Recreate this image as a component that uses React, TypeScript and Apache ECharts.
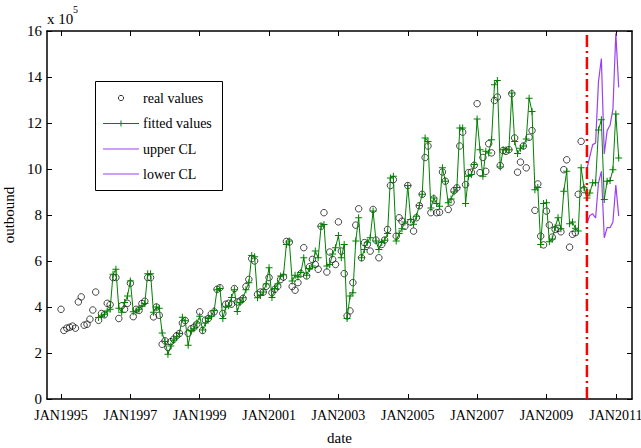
import React, { useEffect, useRef } from "react";
import * as echarts from "echarts";

// months counted from JAN1995 (index 0)
const realValues = [
  3.9, 2.98, 3.08, 3.12, 3.17, 3.08, 4.22, 4.44, 3.21, 3.25, 3.47, 3.87,
  4.65, 3.42, 3.72, 3.66, 4.16, 4.1, 5.28, 5.28, 3.5, 4.05, 3.9, 4.16,
  5.03, 3.58, 3.9, 3.85, 4.15, 4.25, 5.28, 5.28, 3.57, 4.0, 3.64, 2.38,
  2.53, 2.24, 2.49, 2.6, 2.75, 2.85, 3.3, 3.41, 2.86, 3.05, 3.12, 3.25,
  3.79, 2.98, 3.43, 3.5, 3.7, 3.79, 4.77, 4.84, 3.72, 4.12, 4.16, 4.12,
  4.8, 4.22, 4.26, 4.37, 4.89, 5.2, 6.1, 6.0, 4.55, 4.65, 4.65, 4.9,
  5.28, 4.62, 4.77, 4.9, 5.2, 5.3, 6.85, 6.82, 4.89, 4.73, 5.06, 5.45,
  6.58, 5.35, 5.75, 6.07, 5.85, 5.64, 7.51, 8.1, 5.52, 6.39, 6.07, 5.85,
  7.7, 6.43, 5.45, 3.61, 3.83, 5.06, 7.56, 8.27, 6.14, 6.8, 6.72, 6.43,
  8.24, 6.91, 6.14, 6.72, 6.91, 7.37, 9.28, 9.54, 7.08, 7.88, 7.73, 7.51,
  9.28, 7.69, 7.3, 7.88, 8.4, 8.9, 10.5, 11.0, 8.1, 8.7, 8.1, 8.12,
  9.87, 9.47, 8.24, 8.56, 9.06, 9.18, 11.0, 11.6, 9.32, 9.84, 9.86, 10.16,
  12.84, 9.84, 10.5, 9.9, 11.1, 10.7, 12.98, 13.13, 10.15, 10.8, 10.77, 10.84,
  13.27, 11.35, 9.86, 10.3, 11.0, 10.05, 11.38, 11.67, 8.2, 9.35, 7.08, 6.7,
  8.17, 7.56, 7.04, 7.37, 7.42, 7.27, 9.97, 10.4, 6.6, 7.16, 7.23, 8.9,
  11.2, 9.1,
];

const fittedStart = 13;
const fittedValues = [
  3.54, 3.61, 3.69, 3.83, 3.9, 5.42, 5.64, 3.95, 3.77, 4.2, 4.48,
  5.13, 3.79, 3.83, 3.9, 4.05, 4.15, 5.45, 5.45, 3.77, 4.0, 3.95, 2.87,
  2.5, 1.95, 2.3, 2.55, 2.7, 2.85, 3.55, 3.4, 2.34, 2.97, 3.05, 3.3,
  3.6, 3.0, 3.3, 3.5, 3.6, 3.85, 4.75, 4.8, 3.5, 4.0, 4.05, 4.41,
  4.75, 3.8, 4.2, 4.4, 4.75, 5.05, 6.24, 6.19, 4.4, 4.5, 4.65, 5.0,
  5.71, 4.41, 4.8, 5.0, 5.35, 5.4, 6.72, 6.87, 5.13, 5.38, 5.3, 5.5,
  6.14, 5.38, 5.67, 5.78, 6.43, 6.14, 7.51, 7.59, 5.78, 5.85, 6.3, 6.58,
  7.11, 6.14, 6.72, 3.5, 4.48, 4.62, 6.87, 7.88, 6.14, 6.5, 6.82, 7.01,
  8.17, 6.87, 6.5, 6.8, 6.9, 7.2, 9.61, 9.68, 6.87, 7.2, 7.4, 7.7,
  9.28, 7.8, 7.6, 7.95, 8.41, 8.9, 11.35, 11.2, 8.3, 8.74, 8.5, 8.38,
  10.05, 9.47, 8.53, 8.7, 9.0, 9.2, 11.78, 11.78, 8.5, 9.68, 9.76, 10.2,
  12.17, 10.84, 9.68, 10.77, 10.7, 11.27, 13.66, 13.85, 10.09, 10.84, 10.84, 10.84,
  13.3, 11.2, 10.67, 10.9, 11.0, 11.3, 13.08, 12.5, 9.1, 9.2, 6.72, 8.5,
  8.53, 6.84, 6.96, 7.47, 7.88, 7.4, 9.03, 9.9, 7.62, 7.7, 7.42, 7.3,
  10.05, 9.18, 8.74, 8.96, 9.4, 9.4, 11.7, 12.14, 8.67, 9.47, 9.5, 9.97,
  12.39, 10.48,
];

const forecastStart = 182;
const upperCL = [10.0, 10.55, 11.06, 11.13, 13.8, 14.8, 10.65, 11.67, 11.9, 12.6, 15.9, 13.55];
const lowerCL = [7.64, 7.98, 8.05, 7.87, 9.4, 9.9, 7.01, 7.45, 7.45, 7.7, 9.3, 7.95];

const tickMonths = [0, 24, 48, 72, 96, 120, 144, 168, 192];
const tickLabels = ["JAN1995", "JAN1997", "JAN1999", "JAN2001", "JAN2003", "JAN2005", "JAN2007", "JAN2009", "JAN2011"];

const SERIF = "'Liberation Serif', 'Times New Roman', serif";
const GREEN = "#008000";
const PURPLE = "#9a40f5";
const PLUS = "path://M3,0H4V3H7V4H4V7H3V4H0V3H3Z";

export default function App() {
  const ref = useRef<HTMLDivElement>(null);
  useEffect(() => {
    if (!ref.current) return;
    const chart = echarts.init(ref.current, null, { renderer: "svg" });
    const xMin = -4.85;
    const xMax = 197.6;
    const axisLine = { show: true, onZero: false, lineStyle: { color: "#000", width: 1.5 } };
    const legendY = [98, 123.5, 149, 174];
    const legendNames = ["real values", "fitted values", "upper CL", "lower CL"];
    const option: any = {
      animation: false,
      backgroundColor: "#fff",
      grid: { left: 47, top: 31, width: 585, height: 368, containLabel: false, outerBoundsMode: "none" },
      xAxis: [
        {
          type: "value",
          min: xMin,
          max: xMax,
          position: "bottom",
          axisLine,
          axisTick: { inside: true, length: 5, customValues: tickMonths, lineStyle: { color: "#000", width: 1 } },
          axisLabel: {
            customValues: tickMonths,
            formatter: (v: number) => tickLabels[tickMonths.indexOf(Math.round(v))] ?? "",
            fontFamily: SERIF,
            fontSize: 14,
            color: "#000",
            margin: 9,
          },
          splitLine: { show: false },
          name: "date",
          nameLocation: "middle",
          nameGap: 31,
          nameTextStyle: { fontFamily: SERIF, fontSize: 15, color: "#000" },
        },
        {
          type: "value",
          min: xMin,
          max: xMax,
          position: "top",
          axisLine,
          axisTick: { inside: true, length: 5, customValues: tickMonths, lineStyle: { color: "#000", width: 1 } },
          axisLabel: { show: false },
          splitLine: { show: false },
        },
      ],
      yAxis: [
        {
          type: "value",
          min: 0,
          max: 16,
          interval: 2,
          position: "left",
          axisLine,
          axisTick: { inside: true, length: 5, lineStyle: { color: "#000", width: 1 } },
          axisLabel: { fontFamily: SERIF, fontSize: 15, color: "#000", margin: 5 },
          splitLine: { show: false },
          name: "outbound",
          nameLocation: "middle",
          nameGap: 30,
          nameRotate: 90,
          nameTextStyle: { fontFamily: SERIF, fontSize: 15, color: "#000" },
        },
        {
          type: "value",
          min: 0,
          max: 16,
          interval: 2,
          position: "right",
          axisLine,
          axisTick: { inside: true, length: 5, lineStyle: { color: "#000", width: 1 } },
          axisLabel: { show: false },
          splitLine: { show: false },
        },
      ],
      series: [
        {
          name: "real values",
          type: "scatter",
          symbol: "circle",
          symbolSize: 6.5,
          itemStyle: { color: "rgba(255,255,255,0)", borderColor: "#000", borderWidth: 0.9 },
          data: realValues.map((v, i) => [i, v]),
          z: 2,
        },
        {
          name: "fitted values",
          type: "line",
          symbol: PLUS,
          symbolSize: 7,
          showSymbol: true,
          itemStyle: { color: GREEN },
          lineStyle: { color: GREEN, width: 1 },
          data: fittedValues.map((v, i) => [fittedStart + i, v]),
          z: 3,
        },
        {
          name: "upper CL",
          type: "line",
          symbol: "none",
          lineStyle: { color: PURPLE, width: 1.2 },
          data: upperCL.map((v, i) => [forecastStart + i, v]),
          z: 3,
        },
        {
          name: "lower CL",
          type: "line",
          symbol: "none",
          lineStyle: { color: PURPLE, width: 1.2 },
          data: lowerCL.map((v, i) => [forecastStart + i, v]),
          z: 3,
        },
        {
          name: "forecast start",
          type: "line",
          symbol: "none",
          lineStyle: { color: "#ff0000", width: 2.5, type: [12, 4, 2, 4] },
          data: [
            [forecastStart, 0],
            [forecastStart, 16],
          ],
          z: 4,
        },
      ],
      graphic: [
        {
          type: "text",
          left: 47,
          top: 11,
          style: { text: "x 10", font: `15px ${SERIF}`, fill: "#000" },
        },
        {
          type: "text",
          left: 73,
          top: 4,
          style: { text: "5", font: `10px ${SERIF}`, fill: "#000" },
        },
        {
          type: "group",
          z: 100,
          children: [
            {
              type: "rect",
              shape: { x: 95.5, y: 81.5, width: 127, height: 109 },
              style: { fill: "#fff", stroke: "#000", lineWidth: 1 },
            },
            {
              type: "circle",
              shape: { cx: 121, cy: legendY[0], r: 2.6 },
              style: { fill: "none", stroke: "#000", lineWidth: 0.8 },
            },
            {
              type: "line",
              shape: { x1: 103, y1: legendY[1], x2: 139, y2: legendY[1] },
              style: { stroke: GREEN, lineWidth: 1 },
            },
            {
              type: "line",
              shape: { x1: 121, y1: legendY[1] - 3, x2: 121, y2: legendY[1] + 3 },
              style: { stroke: GREEN, lineWidth: 1 },
            },
            {
              type: "line",
              shape: { x1: 103, y1: legendY[2], x2: 139, y2: legendY[2] },
              style: { stroke: PURPLE, lineWidth: 1.2 },
            },
            {
              type: "line",
              shape: { x1: 103, y1: legendY[3], x2: 139, y2: legendY[3] },
              style: { stroke: PURPLE, lineWidth: 1.2 },
            },
            ...legendNames.map((t, i) => ({
              type: "text",
              x: 143,
              y: legendY[i],
              style: { text: t, font: `14px ${SERIF}`, fill: "#000", verticalAlign: "middle", align: "left" },
            })),
          ],
        },
      ],
    };
    chart.setOption(option);
    return () => chart.dispose();
  }, []);
  return <div ref={ref} style={{ width: 641, height: 448, position: "absolute", left: 0, top: 0 }} />;
}
